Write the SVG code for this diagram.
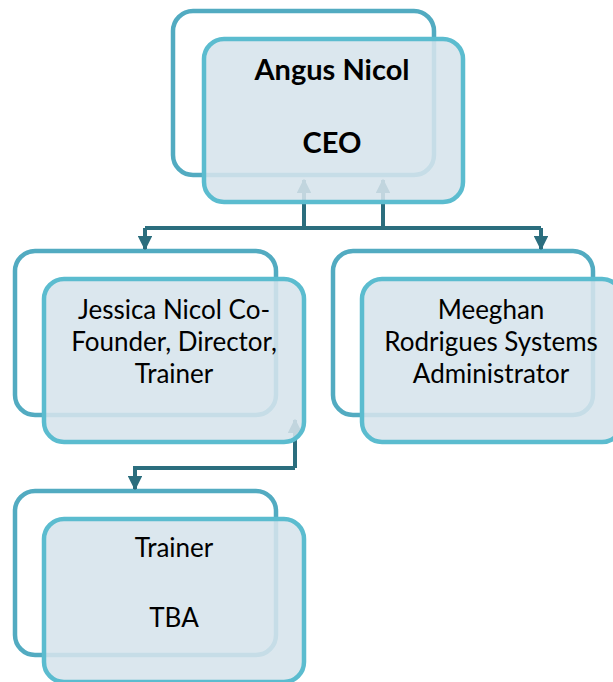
<svg xmlns="http://www.w3.org/2000/svg" width="613" height="682" viewBox="0 0 613 682">
<defs>
<style>
.back{fill:none;stroke:#52abc1;stroke-width:4.5}
.front{fill:#d6e4ec;fill-opacity:0.88;stroke:#5bbccf;stroke-width:4.5}
.conn{fill:none;stroke:#2b6e7e;stroke-width:4}
.t{font-family:Lato,"Liberation Sans",sans-serif;font-size:26px;fill:#000;text-anchor:middle}
.b{font-weight:bold;font-size:29px}
</style>
<marker id="ah" viewBox="0 0 10 10" refX="9" refY="5" markerWidth="3.6" markerHeight="3.6" orient="auto" markerUnits="strokeWidth">
<path d="M0,0 L10,5 L0,10 z" fill="#2b6e7e"/>
</marker>
</defs>
<rect width="613" height="682" fill="#fff"/>
<g id="n-ceo-back"><rect class="back" x="173" y="11" width="261" height="164" rx="20"/></g>
<g id="n-jessica-back"><rect class="back" x="15" y="251" width="261" height="164" rx="20"/></g>
<g id="n-meeghan-back"><rect class="back" x="333" y="251" width="260" height="164" rx="20"/></g>
<g id="n-trainer-back"><rect class="back" x="15" y="491" width="261" height="164" rx="20"/></g>
<g id="connectors">
<path class="conn" d="M304,228 V180" marker-end="url(#ah)"/>
<path class="conn" d="M383,228 V180" marker-end="url(#ah)"/>
<path class="conn" d="M145,228 H541"/>
<path class="conn" d="M145,228 V249" marker-end="url(#ah)"/>
<path class="conn" d="M541,228 V249" marker-end="url(#ah)"/>
<path class="conn" d="M295,468 V420" marker-end="url(#ah)"/>
<path class="conn" d="M295,468 H135 V489" marker-end="url(#ah)"/>
</g>
<g id="n-ceo">
<rect class="front" x="204" y="39" width="259" height="163" rx="20"/>
<text class="t b" x="332" y="80">Angus Nicol</text>
<text class="t b" x="332" y="153">CEO</text>
</g>
<g id="n-jessica">
<rect class="front" x="44" y="279" width="260" height="163" rx="20"/>
<text class="t" x="174" y="319">Jessica Nicol Co-</text>
<text class="t" x="174" y="351">Founder, Director,</text>
<text class="t" x="174" y="383">Trainer</text>
</g>
<g id="n-meeghan">
<rect class="front" x="362" y="279" width="260" height="163" rx="20"/>
<text class="t" x="491" y="319">Meeghan</text>
<text class="t" x="491" y="351">Rodrigues Systems</text>
<text class="t" x="491" y="383">Administrator</text>
</g>
<g id="n-trainer">
<rect class="front" x="44" y="519" width="260" height="163" rx="20"/>
<text class="t" x="174" y="557">Trainer</text>
<text class="t" x="174" y="627">TBA</text>
</g>
</svg>
